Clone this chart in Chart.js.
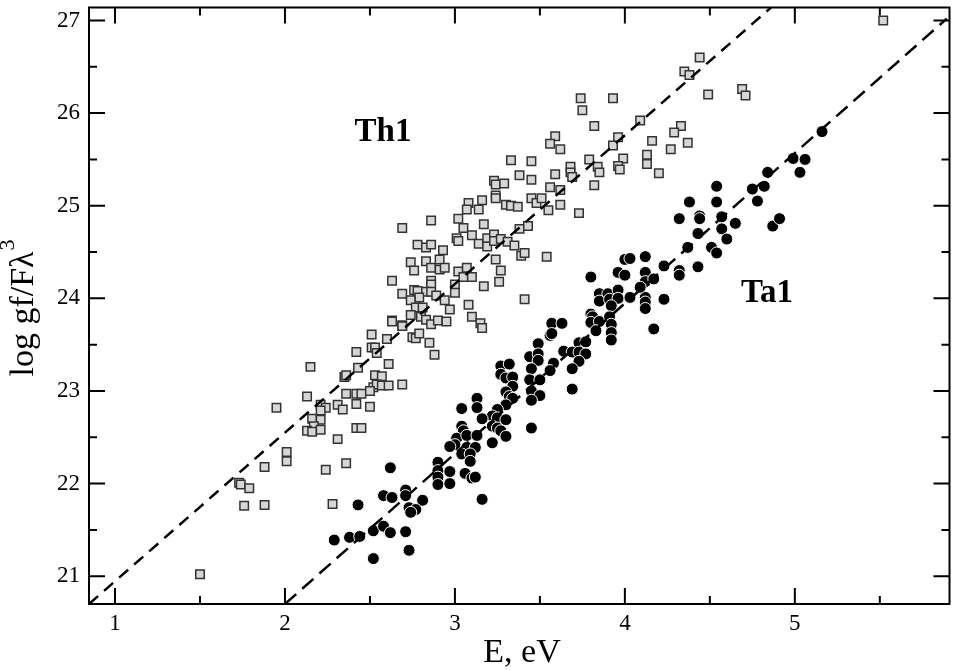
<!DOCTYPE html>
<html>
<head>
<meta charset="utf-8">
<title>log gf/Fλ³ vs E</title>
<script src="https://cdn.jsdelivr.net/npm/chart.js@4.4.1/dist/chart.umd.min.js"></script>
<style>
  html, body { margin: 0; padding: 0; background: #fff; }
  canvas { display: block; }
</style>
</head>
<body>
<canvas id="chart" width="957" height="670"></canvas>
<script>
/* ---- data ---- */
// Th1 (grey squares)
const thE = [4.44,4.35,4.38,4.49,4.69,4.71,3.74,3.93,3.75,3.82,4.09,4.33,4.29,4.37,4.16,4.27,3.96,3.93,3.59,3.56,
  3.62,3.33,3.45,3.79,3.84,3.85,3.99,3.96,3.97,4.13,4.13,4.20,3.68,3.68,3.69,3.38,3.45,3.59,3.82,3.23,
  3.24,3.29,3.56,3.62,3.24,3.24,3.16,3.08,3.07,3.14,3.45,3.48,3.51,3.30,3.33,3.37,3.55,3.62,3.73,2.86,
  2.69,3.02,3.05,3.17,3.38,3.43,5.52,3.01,3.02,3.10,3.14,3.19,3.19,3.23,3.23,3.27,3.31,3.35,2.78,2.83,
  2.86,2.93,2.74,2.76,2.83,2.86,2.91,2.91,2.94,3.02,3.07,3.05,3.10,3.24,3.27,3.26,3.39,3.41,3.54,2.63,
  2.86,2.86,3.00,3.00,3.17,2.69,2.76,2.78,2.83,2.86,2.89,2.79,2.74,2.94,2.97,3.41,2.77,2.81,2.74,2.80,
  2.83,2.86,2.90,2.95,3.08,3.10,3.15,3.16,2.63,2.63,2.69,2.69,2.51,2.60,2.75,2.77,2.79,2.85,2.88,2.42,
  2.51,2.53,2.54,2.61,2.15,2.43,2.35,2.36,2.53,2.57,2.52,2.54,2.57,2.61,2.69,2.36,2.42,2.45,2.50,2.13,
  1.95,2.21,2.24,2.21,2.31,2.34,2.42,2.50,2.16,2.21,2.17,2.13,2.16,2.21,2.42,2.45,2.31,2.01,2.01,1.88,
  2.24,2.36,1.73,1.74,1.79,1.76,1.88,2.28,1.50];
const thLog = [26.60,26.45,26.41,26.20,26.26,26.19,26.16,26.16,26.03,25.86,25.92,25.86,25.79,25.68,25.70,25.61,25.74,25.65,25.75,25.67,
  25.61,25.49,25.48,25.50,25.42,25.36,25.51,25.43,25.39,25.55,25.45,25.35,25.42,25.36,25.31,25.33,25.28,25.34,25.22,25.27,
  25.23,25.24,25.20,25.17,25.11,25.08,25.06,25.03,24.96,24.96,25.08,25.03,25.08,25.01,25.00,24.99,24.95,25.01,24.92,24.84,
  24.76,24.86,24.76,24.80,24.75,24.78,27.00,24.65,24.62,24.68,24.59,24.65,24.56,24.69,24.62,24.64,24.61,24.57,24.58,24.55,
  24.58,24.52,24.39,24.30,24.40,24.33,24.42,24.31,24.33,24.29,24.33,24.23,24.23,24.42,24.30,24.18,24.46,24.49,24.45,24.19,
  24.19,24.15,24.15,24.06,24.13,24.05,24.09,24.08,24.07,24.07,24.03,24.01,23.98,23.98,23.88,23.99,23.90,23.90,23.82,23.80,
  23.77,23.72,23.76,23.75,23.93,23.80,23.73,23.68,23.76,23.75,23.71,23.70,23.61,23.56,23.58,23.57,23.62,23.52,23.39,23.42,
  23.47,23.47,23.41,23.29,23.26,23.25,23.15,23.17,23.17,23.16,23.04,23.07,23.06,23.06,23.07,22.97,22.97,22.97,23.00,22.94,
  22.82,22.85,22.82,22.79,22.85,22.80,22.86,22.83,22.70,22.69,22.62,22.57,22.56,22.58,22.60,22.60,22.48,22.34,22.24,22.18,
  22.15,22.22,22.01,21.99,21.95,21.76,21.77,21.78,21.02];

// Ta1 (black circles)
const taE = [5.16,4.99,5.06,5.03,4.84,4.54,4.75,4.82,4.78,4.38,4.54,4.32,4.44,4.44,4.57,4.65,4.87,4.91,4.43,4.57,
  4.60,4.37,4.51,4.54,4.43,4.23,4.32,4.32,4.00,4.03,4.12,3.80,3.96,4.00,4.12,4.12,4.17,4.23,3.85,3.90,
  3.96,3.85,3.91,3.96,3.92,4.03,4.12,4.12,4.12,4.09,3.80,3.81,3.80,3.85,3.83,3.91,3.92,3.92,3.92,4.17,
  3.57,3.63,3.56,3.57,3.49,3.44,3.49,3.49,3.64,3.58,3.56,3.73,3.77,3.69,3.73,3.77,3.73,3.69,3.69,3.27,
  3.32,3.27,3.30,3.34,3.34,3.45,3.44,3.50,3.45,3.50,3.45,3.30,3.32,3.34,3.30,3.25,3.13,3.13,3.04,3.22,
  3.25,3.16,3.22,3.25,3.30,3.27,3.30,3.45,3.04,3.05,3.01,3.07,3.13,3.00,2.97,3.07,3.12,3.04,3.09,3.09,
  3.22,2.90,2.90,2.90,2.90,2.97,2.97,3.06,3.10,3.12,3.16,2.71,2.71,2.81,2.73,2.77,2.74,2.62,2.58,2.63,
  2.43,2.29,2.38,2.44,2.52,2.58,2.62,2.52,2.71,2.73];
const taLog = [25.80,25.51,25.50,25.36,25.36,25.21,25.18,25.21,25.05,25.04,25.04,24.86,24.89,24.86,24.88,24.81,24.78,24.86,24.70,24.75,
  24.64,24.55,24.55,24.49,24.34,24.35,24.30,24.25,24.42,24.43,24.45,24.23,24.28,24.25,24.28,24.18,24.21,23.99,24.05,24.05,
  24.09,23.97,23.99,24.00,23.92,24.01,24.01,23.96,23.89,24.12,23.83,23.80,23.74,23.75,23.65,23.80,23.72,23.63,23.55,23.67,
  23.73,23.73,23.60,23.62,23.51,23.37,23.40,23.33,23.43,23.30,23.22,23.52,23.53,23.42,23.42,23.40,23.32,23.24,23.02,23.27,
  23.29,23.18,23.14,23.15,23.05,23.24,23.12,23.12,23.00,22.95,22.90,22.99,22.94,22.92,22.85,22.80,22.92,22.82,22.81,22.73,
  22.71,22.70,22.62,22.60,22.69,22.57,22.51,22.60,22.62,22.57,22.49,22.52,22.52,22.42,22.40,22.39,22.39,22.32,22.32,22.24,
  22.44,22.23,22.14,22.07,21.99,22.13,22.00,22.11,22.06,22.07,21.83,21.93,21.87,21.82,21.74,21.72,21.69,22.17,21.87,21.85,
  21.77,21.39,21.42,21.43,21.49,21.54,21.47,21.19,21.48,21.28];

// dashed fit lines, end points where they meet the frame
const thFitE = [0.847, 4.86];
const thFitLog = [20.70, 27.14];
const taFitE = [2.0, 5.894];
const taFitLog = [20.70, 27.02];

// axes
const xTicks = [1, 2, 3, 4, 5];
const xMinor = [1.5, 2.5, 3.5, 4.5, 5.5];
const yTicks = [21, 22, 23, 24, 25, 26, 27];
const yMinor = [21.5, 22.5, 23.5, 24.5, 25.5, 26.5];
const xRange = [0.847, 5.91];
const yRange = [20.70, 27.14];

const SERIF = '"Liberation Serif", "DejaVu Serif", serif';

function pts(xs, ys) {
    return xs.map((x, i) => ({ x: x, y: ys[i] }));
}

/* -------- frame, inward ticks, titles, labels -------- */
const decor = {
    id: 'decor',
    afterDatasetsDraw(chart) {
        const ctx = chart.ctx;
        const a = chart.chartArea;
        const sx = chart.scales.x, sy = chart.scales.y;
        ctx.save();
        ctx.strokeStyle = '#000';
        ctx.lineWidth = 2;
        ctx.strokeRect(a.left, a.top, a.right - a.left, a.bottom - a.top);

        ctx.beginPath();
        const tick = (vals, len) => {
            vals.forEach(v => {
                const px = sx.getPixelForValue(v);
                ctx.moveTo(px, a.bottom); ctx.lineTo(px, a.bottom - len);
                ctx.moveTo(px, a.top); ctx.lineTo(px, a.top + len);
            });
        };
        const tickY = (vals, len) => {
            vals.forEach(v => {
                const py = sy.getPixelForValue(v);
                ctx.moveTo(a.left, py); ctx.lineTo(a.left + len, py);
                ctx.moveTo(a.right, py); ctx.lineTo(a.right - len, py);
            });
        };
        tick(xTicks, 16); tick(xMinor, 8);
        tickY(yTicks, 16); tickY(yMinor, 8);
        ctx.stroke();

        // series labels
        ctx.fillStyle = '#000';
        ctx.textAlign = 'center';
        ctx.textBaseline = 'alphabetic';
        ctx.font = 'bold 33px ' + SERIF;
        ctx.fillText('Th1', 383, 141);
        ctx.fillText('Ta1', 767, 302);

        // x title
        ctx.font = '34px ' + SERIF;
        ctx.fillText('E, eV', 522, 662);

        // y title with superscript
        ctx.translate(33, 314);
        ctx.rotate(-Math.PI / 2);
        ctx.font = '34px ' + SERIF;
        const main = 'log gf/F\u03BB';
        const w = ctx.measureText(main).width;
        ctx.fillText(main, 0, 0);
        ctx.textAlign = 'left';
        ctx.font = '22px ' + SERIF;
        ctx.fillText('3', w / 2 + 1, -19);
        ctx.restore();
    }
};

new Chart(document.getElementById('chart'), {
    type: 'scatter',
    data: {
        datasets: [{
            label: 'Th1 fit',
            data: pts(thFitE, thFitLog),
            showLine: true,
            pointRadius: 0,
            borderColor: '#000',
            borderWidth: 2.5,
            borderDash: [12, 8],
            order: 0
        }, {
            label: 'Ta1 fit',
            data: pts(taFitE, taFitLog),
            showLine: true,
            pointRadius: 0,
            borderColor: '#000',
            borderWidth: 2.5,
            borderDash: [15, 8],
            order: 0
        }, {
            label: 'Th1',
            data: pts(thE, thLog),
            pointStyle: 'rect',
            pointRadius: 6,
            backgroundColor: '#d6d6d6',
            borderColor: '#333',
            borderWidth: 1.5,
            order: 2
        }, {
            label: 'Ta1',
            data: pts(taE, taLog),
            pointStyle: 'circle',
            pointRadius: 6,
            backgroundColor: '#000',
            borderColor: '#fff',
            borderWidth: 1,
            order: 1
        }]
    },
    options: {
        responsive: false,
        animation: false,
        devicePixelRatio: 1,
        events: [],
        layout: { padding: { top: 4, right: 6, left: 0, bottom: 0 } },
        plugins: {
            legend: { display: false },
            tooltip: { enabled: false }
        },
        scales: {
            x: {
                type: 'linear',
                min: xRange[0],
                max: xRange[1],
                grid: { display: false, drawTicks: false },
                border: { display: false },
                afterBuildTicks: s => { s.ticks = xTicks.map(v => ({ value: v })); },
                afterFit: s => { s.height = 66; s.paddingLeft = 0; s.paddingRight = 0; },
                ticks: {
                    padding: 6,
                    color: '#000',
                    font: { family: SERIF, size: 23 },
                    callback: v => String(v)
                }
            },
            y: {
                type: 'linear',
                min: yRange[0],
                max: yRange[1],
                grid: { display: false, drawTicks: false },
                border: { display: false },
                afterBuildTicks: s => { s.ticks = yTicks.map(v => ({ value: v })); },
                afterFit: s => { s.width = 89; s.paddingTop = 0; s.paddingBottom = 0; },
                ticks: {
                    padding: 9,
                    color: '#000',
                    font: { family: SERIF, size: 23 },
                    callback: v => String(v)
                }
            }
        }
    },
    plugins: [decor]
});
</script>
</body>
</html>
